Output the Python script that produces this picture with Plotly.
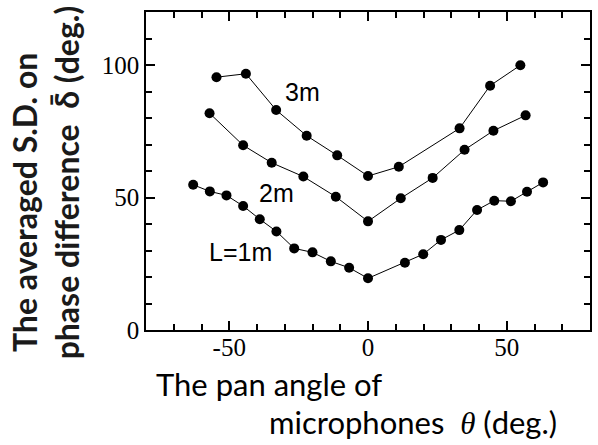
import plotly.graph_objects as go

# Data
x_1m = [-63, -57, -51, -45, -39, -33, -26.6, -20, -13.4, -6.8, 0, 13.3, 19.9, 26.3, 32.9, 39.3, 45.5, 51.5, 57.3, 63.1]
y_1m = [54.8, 52.3, 50.8, 46.8, 41.8, 37.2, 30.8, 29.3, 25.9, 23.5, 19.5, 25.4, 28.6, 34.0, 37.7, 45.3, 48.8, 48.6, 52.2, 55.7]

x_2m = [-57.1, -45.0, -34.7, -23.3, -11.6, 0, 11.8, 23.3, 34.8, 45.2, 56.8]
y_2m = [81.8, 69.7, 63.1, 57.9, 50.3, 41.0, 49.7, 57.4, 68.0, 75.2, 81.0]

x_3m = [-54.6, -44.0, -33.1, -22.1, -11.1, 0, 11.1, 33.0, 44.0, 54.9]
y_3m = [95.4, 96.7, 83.0, 73.3, 65.9, 58.1, 61.6, 76.1, 92.2, 99.9]

series_labels = ["L=1m", "2m", "3m"]
label_x = [-45.8, -32.9, -23.7]
label_y = [29.3, 51.8, 89.9]

x_tickvals = [-50, 0, 50]
x_ticktext = ["-50", "0", "50"]
y_tickvals = [0, 50, 100]
y_ticktext = ["0", "50", "100"]
x_range = [-80, 80]
y_range = [0, 120]
minor_step = 10

W, H = 598, 445
L, R, T, B = 146, 6, 12, 115
pw, ph = W - L - R, H - T - B


def px(x):
    return (x - L) / pw


def py(y):
    return (H - B - y) / ph


fig = go.Figure()
for xs, ys in [(x_1m, y_1m), (x_2m, y_2m), (x_3m, y_3m)]:
    fig.add_trace(go.Scatter(
        x=xs, y=ys, mode="lines+markers",
        line=dict(color="black", width=1),
        marker=dict(color="black", size=10),
        showlegend=False,
    ))

annotations = []
for t, lx, ly in zip(series_labels, label_x, label_y):
    annotations.append(dict(
        x=lx, y=ly, xref="x", yref="y", text=t, showarrow=False,
        font=dict(family="Liberation Sans", size=25, color="black"),
    ))

title_font = dict(family="Lato", size=31, color="black")
ytitle_font = dict(family="Lato", size=32, color="#1a1a1a")
annotations += [
    dict(xref="paper", yref="paper", x=px(154), y=py(384), xanchor="left", yanchor="middle",
         text="The pan angle of", showarrow=False, font=title_font),
    dict(xref="paper", yref="paper", x=px(268), y=py(422), xanchor="left", yanchor="middle",
         text="microphones  <i><span style=\"font-family:'Liberation Serif'\">θ</span></i> (deg.)",
         showarrow=False, font=title_font),
    dict(xref="paper", yref="paper", x=px(24), y=py(354), xanchor="center", yanchor="bottom",
         textangle=-90, text="<b>The averaged S.D. on</b>", showarrow=False, font=ytitle_font),
    dict(xref="paper", yref="paper", x=px(67), y=py(3), xanchor="center", yanchor="top",
         textangle=-90, text="<b>phase difference  δ̄ (deg.)</b>", showarrow=False, font=ytitle_font),
]

axis_common = dict(
    showline=True, linecolor="black", linewidth=1.5, mirror="allticks",
    ticks="inside", ticklen=9, tickwidth=1.5, tickcolor="black",
    showgrid=False, zeroline=False,
    tickfont=dict(family="Liberation Serif", size=25, color="black"),
    minor=dict(ticks="inside", ticklen=6, tickwidth=1.5, tickcolor="black",
               dtick=minor_step, showgrid=False),
)

fig.update_layout(
    template="simple_white",
    width=W, height=H,
    margin=dict(l=L, r=R, t=T, b=B),
    font=dict(family="Liberation Serif", color="black"),
    plot_bgcolor="white", paper_bgcolor="white",
    xaxis=dict(range=x_range, tickmode="array", tickvals=x_tickvals, ticktext=x_ticktext,
               ticklabelstandoff=-6, **axis_common),
    yaxis=dict(range=y_range, tickmode="array", tickvals=y_tickvals, ticktext=y_ticktext,
               **axis_common),
    annotations=annotations,
)

fig.write_html(
    "out.html",
    config={"displayModeBar": False},
    post_script="document.body.style.margin='0';document.body.style.overflow='hidden';",
)
